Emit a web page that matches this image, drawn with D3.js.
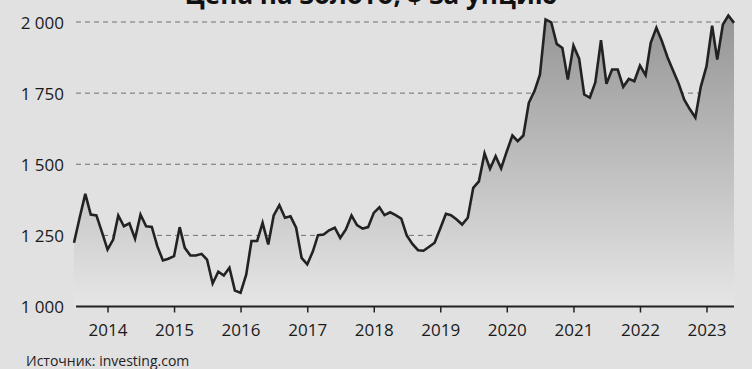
<!DOCTYPE html>
<html>
<head>
<meta charset="utf-8">
<script src="https://cdn.jsdelivr.net/npm/d3@7"></script>
<style>
  html, body { margin: 0; padding: 0; background: #e1e1e1; }
  svg { display: block; font-family: "Open Sans", sans-serif; }
</style>
</head>
<body>
<svg id="chart" width="752" height="369"></svg>
<script>
// Gold price, monthly closes in US dollars per troy ounce
const titleText = "Цена на золото, $ за унцию";
const sourceText = "Источник: investing.com";

// month of the first close; each value is drawn at the end of its month
const firstMonth = "2013-06";
const closes = [
  1224, 1312, 1396, 1323, 1320, 1262, 1200,            // Jun–Dec 2013
  1235, 1320, 1282, 1292, 1238, 1323, 1282, 1280, 1212, 1162, 1168, 1177, // 2014
  1279, 1206, 1179, 1179, 1185, 1165, 1081, 1122, 1109, 1136, 1056, 1048, // 2015
  1112, 1230, 1230, 1294, 1218, 1320, 1356, 1312, 1317, 1277, 1171, 1148, // 2016
  1194, 1251, 1253, 1268, 1277, 1241, 1271, 1320, 1286, 1274, 1279, 1329, // 2017
  1349, 1321, 1331, 1321, 1309, 1250, 1220, 1198, 1196, 1210, 1224, 1274, // 2018
  1326, 1321, 1306, 1288, 1312, 1417, 1440, 1538, 1484, 1528, 1485, 1545, // 2019
  1601, 1581, 1601, 1716, 1757, 1815, 2009, 1999, 1923, 1909, 1798, 1917, // 2020
  1871, 1745, 1734, 1788, 1936, 1783, 1833, 1833, 1772, 1800, 1792, 1847, // 2021
  1813, 1927, 1980, 1933, 1876, 1830, 1784, 1727, 1694, 1664, 1773, 1844, // 2022
  1987, 1868, 1991, 2023, 1997                          // Jan–May 2023
];

const yTickValues = [1000, 1250, 1500, 1750, 2000];
const xTickYears = [2014, 2015, 2016, 2017, 2018, 2019, 2020, 2021, 2022, 2023];

const parseMonth = d3.timeParse("%Y-%m");
const start = parseMonth(firstMonth);
const data = closes.map((v, i) => ({
  date: d3.timeMonth.offset(start, i + 1),
  value: v
}));

const svg = d3.select("#chart");

const x = d3.scaleTime()
  .domain([data[0].date, data[data.length - 1].date])
  .range([74, 734]);

const y = d3.scaleLinear()
  .domain([1000, 2000])
  .range([306.5, 22]);

const ruLocale = d3.formatLocale({ decimal: ",", thousands: "\u00a0", grouping: [3], currency: ["", " $"] });
const fmt = ruLocale.format(",d");

// gradient for the area under the line
const defs = svg.append("defs");
const grad = defs.append("linearGradient")
  .attr("id", "areaFill")
  .attr("gradientUnits", "userSpaceOnUse")
  .attr("x1", 0).attr("x2", 0)
  .attr("y1", y(2000)).attr("y2", y(1000));
grad.append("stop").attr("offset", 0).attr("stop-color", "#979797");
grad.append("stop").attr("offset", 1).attr("stop-color", "#e6e6e6");

// dashed horizontal gridlines
svg.append("g")
  .selectAll("line")
  .data(yTickValues.filter(v => v > 1000))
  .join("line")
  .attr("x1", 76).attr("x2", 734)
  .attr("y1", d => y(d)).attr("y2", d => y(d))
  .attr("stroke", "#707070")
  .attr("stroke-width", 1)
  .attr("stroke-dasharray", "5,4");

// area and line
const area = d3.area()
  .x(d => x(d.date))
  .y0(y(1000))
  .y1(d => y(d.value));

const line = d3.line()
  .x(d => x(d.date))
  .y(d => y(d.value));

svg.append("path")
  .datum(data)
  .attr("d", area)
  .attr("fill", "url(#areaFill)");

svg.append("path")
  .datum(data)
  .attr("d", line)
  .attr("fill", "none")
  .attr("stroke", "#222")
  .attr("stroke-width", 2.6)
  .attr("stroke-linejoin", "miter");

// x axis
const xAxis = d3.axisBottom(x)
  .tickValues(xTickYears.map(yr => new Date(yr, 0, 1)))
  .tickFormat(d3.timeFormat("%Y"))
  .tickSize(6)
  .tickSizeOuter(0);

const gx = svg.append("g")
  .attr("transform", `translate(0,${y(1000)})`)
  .call(xAxis);
gx.select(".domain")
  .attr("d", `M76,0H734`)
  .attr("stroke", "#222")
  .attr("stroke-width", 1.8);
gx.selectAll(".tick line").attr("stroke", "#222").attr("stroke-width", 1.5);
gx.selectAll(".tick text")
  .attr("y", 0)
  .attr("dy", null)
  .attr("transform", "translate(0,29)")
  .attr("fill", "#1a1a1a")
  .style("font-size", "17px")
  .style("font-family", "'Open Sans', sans-serif");

// y axis labels
const yAxis = d3.axisLeft(y)
  .tickValues(yTickValues)
  .tickFormat(fmt)
  .tickSize(0)
  .tickPadding(0);
const gy = svg.append("g")
  .attr("transform", "translate(64,0)")
  .call(yAxis);
gy.select(".domain").remove();
gy.selectAll(".tick text")
  .attr("fill", "#1a1a1a")
  .attr("dy", "0.36em")
  .style("font-size", "17px")
  .style("font-family", "'Open Sans', sans-serif");

// title, partly above the top edge
svg.append("text")
  .attr("x", 371)
  .attr("y", 4)
  .attr("text-anchor", "middle")
  .attr("fill", "#111")
  .style("font-size", "26px")
  .style("font-weight", "700")
  .text(titleText);

// source note
svg.append("text")
  .attr("x", 26)
  .attr("y", 366)
  .attr("fill", "#222")
  .style("font-size", "14px")
  .text(sourceText);
</script>
</body>
</html>
